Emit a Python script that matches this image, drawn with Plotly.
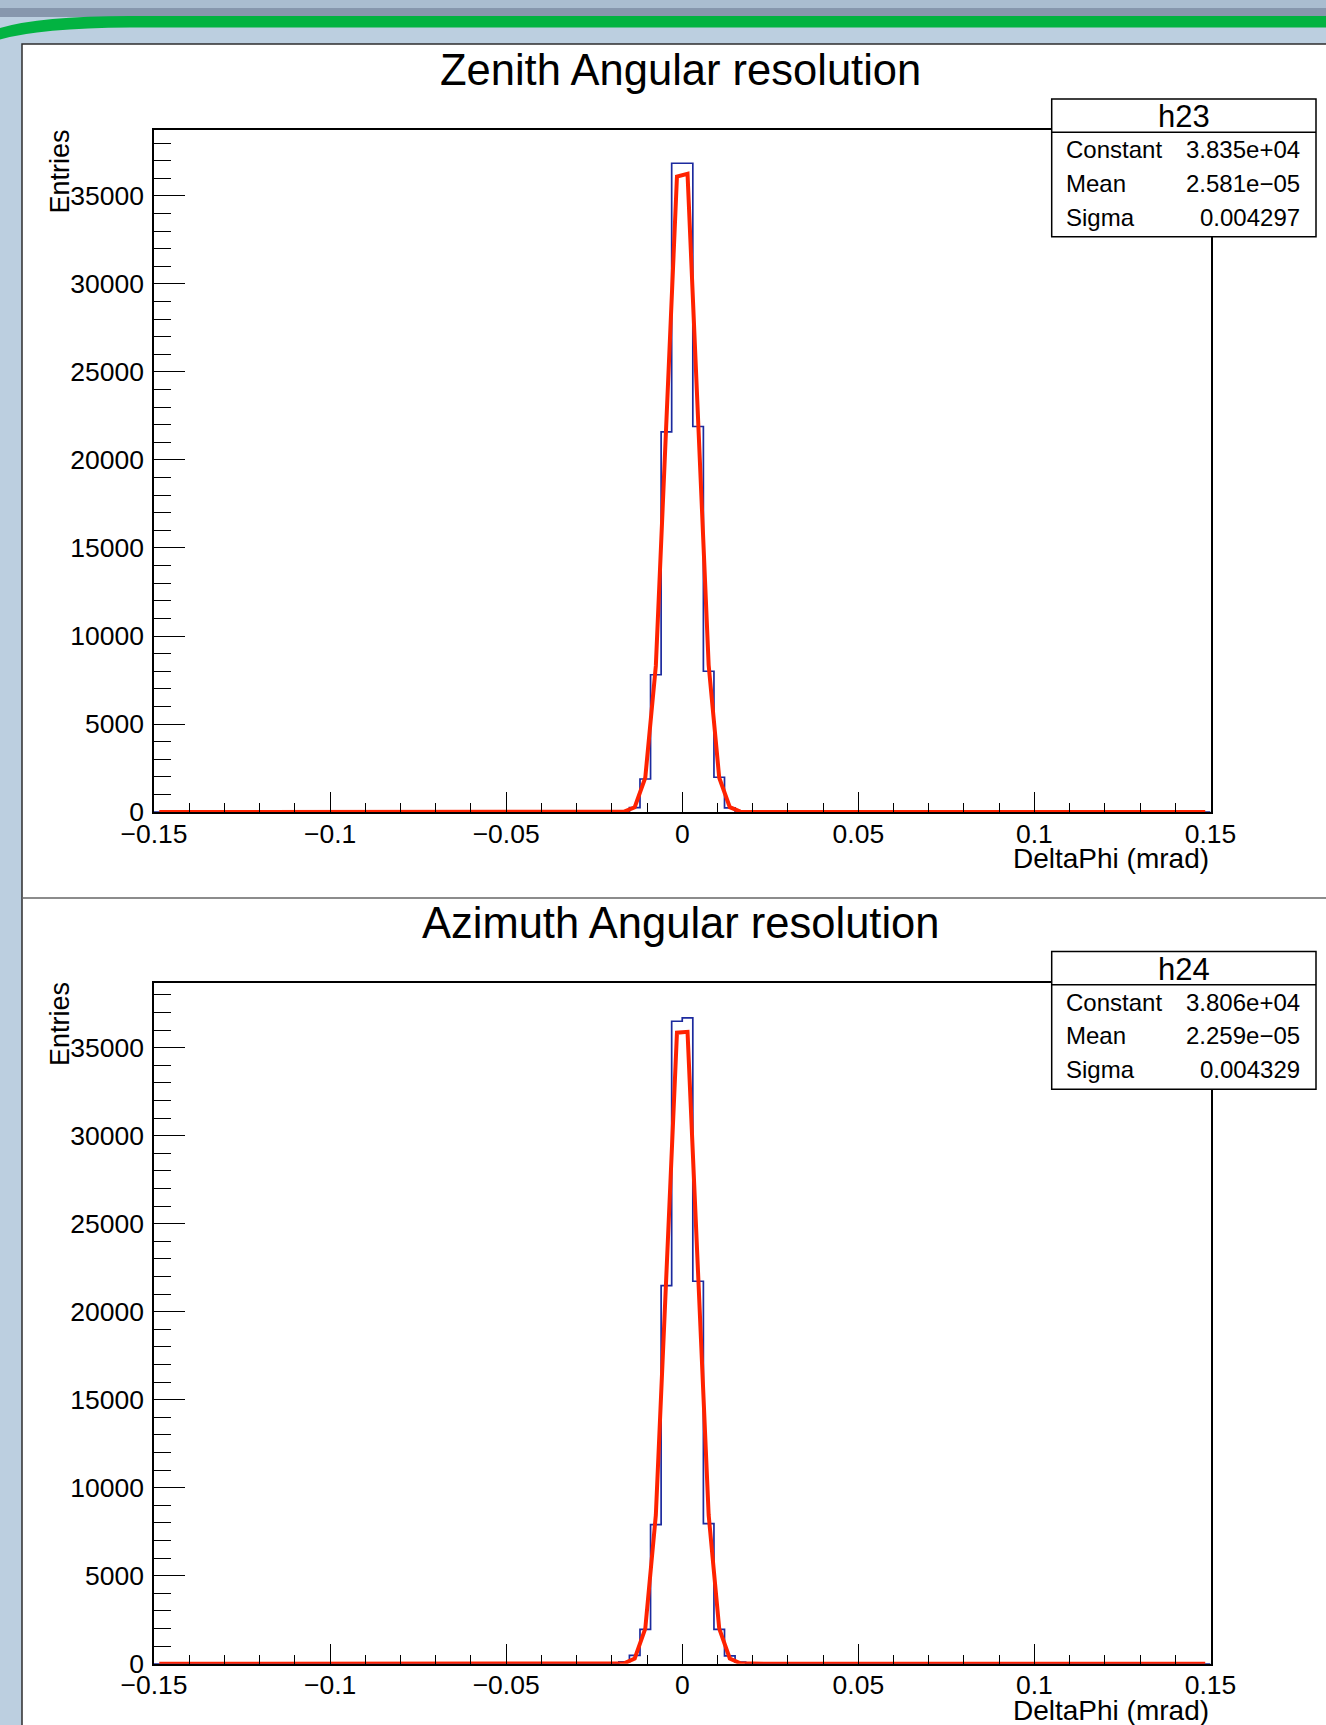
import numpy as np
import plotly.graph_objects as go

W, H = 1326, 1725

# ---------------- data ----------------
x_min, x_max, n_bins = -0.15, 0.15, 100
core_first_bin = 43          # first listed bin: [-0.021, -0.018]

zenith_counts_core = [0, 15, 250, 1880, 7800, 21600, 36850, 36850, 21900, 8000, 1980, 240, 15, 0]
zenith_fit_core = [1, 24, 275, 1950, 8300, 22050, 36100, 36250, 22150, 8350, 1950, 280, 25, 1]
azimuth_counts_core = [5, 110, 480, 1950, 7910, 21480, 36500, 36690, 21730, 7960, 1950, 450, 100, 10]
azimuth_fit_core = [2, 27, 300, 2000, 8450, 22200, 35850, 35900, 22250, 8450, 2000, 300, 27, 2]

x_tick_vals = [-0.15, -0.1, -0.05, 0, 0.05, 0.1, 0.15]
x_tick_text = ["\u22120.15", "\u22120.1", "\u22120.05", "0", "0.05", "0.1", "0.15"]
y_tick_vals = [0, 5000, 10000, 15000, 20000, 25000, 30000, 35000]
y_tick_text = ["0", "5000", "10000", "15000", "20000", "25000", "30000", "35000"]

panel_titles = ["Zenith Angular resolution", "Azimuth Angular resolution"]
hist_names = ["h23", "h24"]
stat_labels = ["Constant", "Mean", "Sigma"]
zenith_stats = ["3.835e+04", "2.581e\u221205", "0.004297"]
azimuth_stats = ["3.806e+04", "2.259e\u221205", "0.004329"]
x_title = "DeltaPhi (mrad)"
y_title = "Entries"
y_max = [38745, 38690]

# ---------------- helpers ----------------
FONT = "Liberation Sans, Arial, Helvetica, sans-serif"
BLUE = "#1c2a9e"
RED = "#ff2200"


def X(px):
    return px / W


def Y(py):
    return 1 - py / H


def full(core):
    arr = [0.0] * n_bins
    arr[core_first_bin:core_first_bin + len(core)] = core
    return arr


edges = np.linspace(x_min, x_max, n_bins + 1)
centers = (edges[:-1] + edges[1:]) / 2

panels = [
    dict(counts=full(zenith_counts_core), fit=full(zenith_fit_core),
         stats=zenith_stats, off=0.0, ax="", top=129.9, bot=812.1),
    dict(counts=full(azimuth_counts_core), fit=full(azimuth_fit_core),
         stats=azimuth_stats, off=852.5, ax="2", top=982.7, bot=1663.8),
]

fig = go.Figure()
shapes = []
annotations = []

# background decoration
shapes += [
    dict(type="rect", xref="paper", yref="paper", x0=X(0), x1=X(W), y0=Y(0), y1=Y(9),
         fillcolor="#aabdd0", line_width=0, layer="below"),
    dict(type="rect", xref="paper", yref="paper", x0=X(0), x1=X(W), y0=Y(8), y1=Y(17),
         fillcolor="#8797ad", line_width=0, layer="below"),
]
green_path = (
    f"M {X(W)},{Y(16)} L {X(130)},{Y(16)} Q {X(40)},{Y(16)} {X(0)},{Y(28)} "
    f"L {X(0)},{Y(39.5)} Q {X(40)},{Y(28)} {X(130)},{Y(27.5)} L {X(W)},{Y(27.5)} Z"
)
shapes.append(dict(type="path", xref="paper", yref="paper", path=green_path,
                   fillcolor="#02b341", line_width=0, layer="below"))
shapes.append(dict(type="rect", xref="paper", yref="paper", x0=X(22), x1=X(W + 5),
                   y0=Y(44), y1=Y(H + 5), fillcolor="white",
                   line=dict(color="#2e2e2e", width=1.5), layer="below"))
shapes.append(dict(type="line", xref="paper", yref="paper", x0=X(22), x1=X(W),
                   y0=Y(898), y1=Y(898), line=dict(color="#666666", width=1.6),
                   layer="below"))

for i, p in enumerate(panels):
    xa = "x" + p["ax"]
    ya = "y" + p["ax"]
    fig.add_trace(go.Scatter(
        x=edges, y=list(p["counts"]) + [p["counts"][-1]], mode="lines",
        line=dict(color=BLUE, width=1.7, shape="hv"), xaxis=xa, yaxis=ya,
        showlegend=False, hoverinfo="skip"))
    fig.add_trace(go.Scatter(
        x=centers, y=p["fit"], mode="lines",
        line=dict(color=RED, width=4), xaxis=xa, yaxis=ya,
        showlegend=False, hoverinfo="skip"))

    common = dict(showline=True, linecolor="black", linewidth=1.5, mirror=True,
                  ticks="inside", tickcolor="black", tickwidth=1.4,
                  showgrid=False, zeroline=False, automargin=False,
                  tickfont=dict(family=FONT, size=26.5, color="black"),
                  tickmode="array")
    xkey = "xaxis" + p["ax"]
    ykey = "yaxis" + p["ax"]
    fig.update_layout(**{
        xkey: dict(common, domain=[X(154.0), X(1210.5)], range=[x_min, x_max],
                   anchor=ya, tickvals=x_tick_vals, ticktext=x_tick_text,
                   ticklen=20, ticklabelstandoff=-3,
                   minor=dict(ticks="inside", ticklen=9.5, tickmode="linear",
                              tick0=0, dtick=0.01, tickcolor="black",
                              tickwidth=1.4, showgrid=False)),
        ykey: dict(common, domain=[Y(p["bot"]), Y(p["top"])], range=[0, y_max[i]],
                   anchor=xa, tickvals=y_tick_vals, ticktext=y_tick_text,
                   ticklen=31, ticklabelstandoff=3,
                   minor=dict(ticks="inside", ticklen=17, tickmode="linear",
                              tick0=0, dtick=1000, tickcolor="black",
                              tickwidth=1.4, showgrid=False)),
    })

    off = p["off"]
    # panel title
    annotations.append(dict(text=panel_titles[i], x=X(681), y=Y(70.5 + off),
                            xanchor="center", yanchor="middle",
                            font=dict(family=FONT, size=43.5, color="black")))
    # axis titles
    annotations.append(dict(text=x_title, x=X(1211), y=Y(858 + off),
                            xanchor="right", yanchor="middle",
                            font=dict(family=FONT, size=28, color="black")))
    annotations.append(dict(text=y_title, x=X(59.5), y=Y(172 + off), textangle=-90,
                            xanchor="center", yanchor="middle",
                            font=dict(family=FONT, size=27, color="black")))
    # stats box
    shapes.append(dict(type="rect", xref="paper", yref="paper",
                       x0=X(1051.7), x1=X(1316), y0=Y(99 + off), y1=Y(236.7 + off),
                       fillcolor="white", line=dict(color="black", width=1.5),
                       layer="above"))
    shapes.append(dict(type="line", xref="paper", yref="paper",
                       x0=X(1051.7), x1=X(1316), y0=Y(132.3 + off), y1=Y(132.3 + off),
                       line=dict(color="black", width=1.5), layer="above"))
    annotations.append(dict(text=hist_names[i], x=X(1183.5), y=Y(116.5 + off),
                            xanchor="center", yanchor="middle",
                            font=dict(family=FONT, size=31, color="black")))
    row_y = [149.5, 183.0, 217.0]
    for lab, val, ry in zip(stat_labels, p["stats"], row_y):
        annotations.append(dict(text=lab, x=X(1064), y=Y(ry + off),
                                xanchor="left", yanchor="middle",
                                font=dict(family=FONT, size=24, color="black")))
        annotations.append(dict(text=val, x=X(1302), y=Y(ry + off),
                                xanchor="right", yanchor="middle",
                                font=dict(family=FONT, size=24, color="black")))

for a in annotations:
    a.update(xref="paper", yref="paper", showarrow=False)

fig.update_layout(
    template="none",
    width=W, height=H, autosize=False,
    margin=dict(l=0, r=0, t=0, b=0, pad=0),
    paper_bgcolor="#bccfe0", plot_bgcolor="white",
    shapes=shapes, annotations=annotations, showlegend=False,
)

fig.write_html(
    "out.html",
    config={"displayModeBar": False},
    post_script="document.body.style.margin='0px';"
                "document.body.style.overflow='hidden';",
)
